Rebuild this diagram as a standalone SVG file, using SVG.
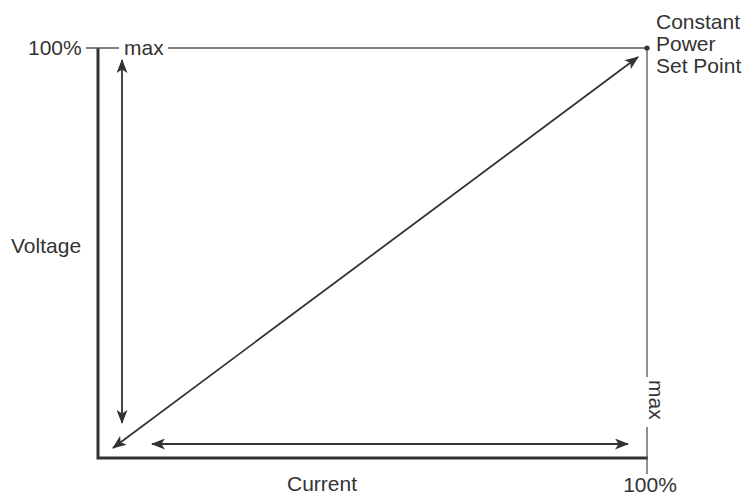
<svg xmlns="http://www.w3.org/2000/svg" width="750" height="497" viewBox="0 0 750 497">
<defs>
<style>
text{font-family:"Liberation Sans",Arial,sans-serif;font-size:21px;fill:#333}
.axis{stroke:#333;stroke-width:3;fill:none}
.thin{stroke:#555;stroke-width:1.3;fill:none}
.arr{stroke:#333;stroke-width:1.8;fill:none;marker-start:url(#ah);marker-end:url(#ah)}
</style>
<marker id="ah" viewBox="0 0 14 11" refX="13" refY="5.5" markerWidth="14" markerHeight="11" markerUnits="userSpaceOnUse" orient="auto-start-reverse">
<path d="M0,0 L14,5.5 L0,11 L3.5,5.5 Z" fill="#333"/>
</marker>
</defs>
<rect width="750" height="497" fill="#fff"/>
<g id="axes">
<path class="axis" d="M98,48 V458 H648"/>
<path class="thin" d="M86,48 H119 M168,48 H647 V377 M647,427 V474"/>
<circle cx="647" cy="48" r="2.6" fill="#333"/>
</g>
<g id="labels">
<text x="28" y="55">100%</text>
<text x="124" y="55">max</text>
<text x="656" y="29">Constant</text>
<text x="656" y="51">Power</text>
<text x="656" y="73">Set Point</text>
<text x="11" y="253">Voltage</text>
<text x="322" y="491" text-anchor="middle">Current</text>
<text x="650" y="492" text-anchor="middle">100%</text>
<text transform="translate(649,380) rotate(90)">max</text>
</g>
<g id="connectors">
<line class="arr" x1="122" y1="423" x2="122" y2="60"/>
<line class="arr" x1="152" y1="444" x2="628" y2="444"/>
<line class="arr" x1="113" y1="448" x2="638" y2="57"/>
</g>
</svg>
